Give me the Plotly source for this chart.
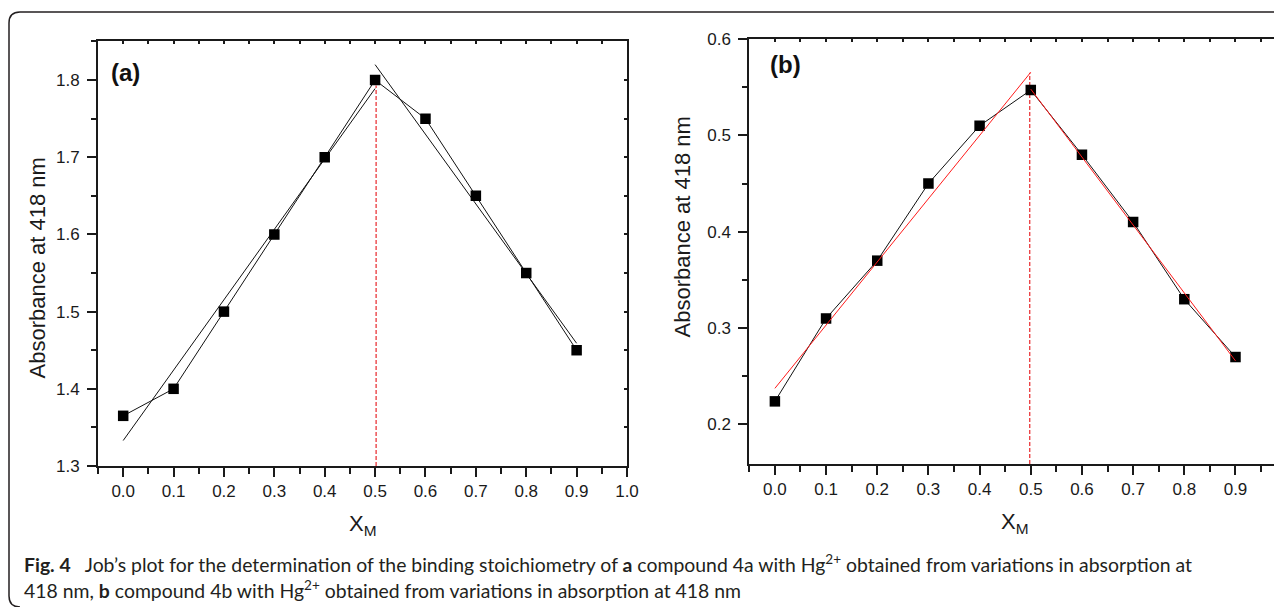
import plotly.graph_objects as go

# The page body adds an 8px margin, so the figure is drawn 8px in from the
# window corner; all pixel positions below are window pixels.
OFF = 8
W, H = 1282 - OFF, 607 - OFF

# ---- data ----
x_vals = [0.0, 0.1, 0.2, 0.3, 0.4, 0.5, 0.6, 0.7, 0.8, 0.9]
abs_a = [1.365, 1.40, 1.50, 1.60, 1.70, 1.80, 1.75, 1.65, 1.55, 1.45]
abs_b = [0.224, 0.31, 0.37, 0.45, 0.51, 0.547, 0.48, 0.41, 0.33, 0.27]

fit_a_left_x = [0.0, 0.5]
fit_a_left_y = [1.333, 1.789]
fit_a_right_x = [0.5, 0.9]
fit_a_right_y = [1.820, 1.459]
vline_a_x = [0.502, 0.502]
vline_a_y = [1.30, 1.793]

fit_b_left_x = [0.0, 0.5]
fit_b_left_y = [0.2375, 0.5655]
fit_b_right_x = [0.5, 0.9]
fit_b_right_y = [0.548, 0.266]
vline_b_x = [0.498, 0.498]
vline_b_y = [0.159, 0.565]

xticks_a = [0.0, 0.1, 0.2, 0.3, 0.4, 0.5, 0.6, 0.7, 0.8, 0.9, 1.0]
xticks_b = [0.0, 0.1, 0.2, 0.3, 0.4, 0.5, 0.6, 0.7, 0.8, 0.9]
yticks_a = [1.3, 1.4, 1.5, 1.6, 1.7, 1.8]
yticks_b = [0.2, 0.3, 0.4, 0.5, 0.6]

ytitle = "Absorbance at 418 nm"
xtitle = "X<sub>M</sub>"
caption_1 = ("<b>Fig. 4</b>\u2002 Job\u2019s plot for the determination of the binding stoichiometry of "
             "<b>a</b> compound 4a with Hg<sup>2+</sup> obtained from variations in absorption at")
caption_2 = ("418 nm, <b>b</b> compound 4b with Hg<sup>2+</sup> obtained from variations in absorption at 418 nm")

# ---- layout geometry (window pixels -> paper) ----
def px(x):
    return (x - OFF) / W

def py(y):
    return 1 - (y - OFF) / H

dom_a_x = [px(98), px(627)]
dom_a_y = [py(466), py(40.7)]
dom_b_x = [px(749.3), px(1279.5)]
dom_b_y = [py(464), py(39)]

range_a_x = [-0.05, 1.0]
range_a_y = [1.3, 1.851]
range_b_x = [-0.05, 0.986]
range_b_y = [0.159, 0.6]

fig = go.Figure()

def add_line(xs, ys, xa, ya, color, dash="solid", width=1):
    fig.add_trace(go.Scatter(x=xs, y=ys, mode="lines", xaxis=xa, yaxis=ya,
                             line=dict(color=color, width=width, dash=dash),
                             showlegend=False, hoverinfo="skip"))

# panel a
add_line(vline_a_x, vline_a_y, "x", "y", "#e8262a", dash="4px,2px", width=1.2)
add_line(fit_a_left_x, fit_a_left_y, "x", "y", "#111111")
add_line(fit_a_right_x, fit_a_right_y, "x", "y", "#111111")
fig.add_trace(go.Scatter(x=x_vals, y=abs_a, mode="lines+markers", xaxis="x", yaxis="y",
                         line=dict(color="#111111", width=1),
                         marker=dict(symbol="square", size=10.5, color="#000000"),
                         showlegend=False))
# panel b
add_line(vline_b_x, vline_b_y, "x2", "y2", "#e8262a", dash="4px,2px", width=1.2)
fig.add_trace(go.Scatter(x=x_vals, y=abs_b, mode="lines+markers", xaxis="x2", yaxis="y2",
                         line=dict(color="#111111", width=1),
                         marker=dict(symbol="square", size=10.5, color="#000000"),
                         showlegend=False))
add_line(fit_b_left_x, fit_b_left_y, "x2", "y2", "#ff1a1a")
add_line(fit_b_right_x, fit_b_right_y, "x2", "y2", "#ff1a1a")

# dummy traces so that the mirror (top/right) axes exist
for xa, ya in [("x3", "y"), ("x", "y3"), ("x4", "y2"), ("x2", "y4")]:
    fig.add_trace(go.Scatter(x=[None], y=[None], xaxis=xa, yaxis=ya,
                             showlegend=False, hoverinfo="skip"))

tick_font = dict(family="Liberation Sans, Arial, sans-serif", size=17, color="#1a1a1a")
axis_line = dict(showline=True, linewidth=2, linecolor="#1a1a1a", showgrid=False,
                 zeroline=False, automargin=False)

def main_x(domain, rng, ticks, anchor):
    return dict(domain=domain, range=rng, anchor=anchor, tickmode="array",
                tickvals=ticks, ticktext=[f"{t:.1f}" for t in ticks],
                ticks="outside", ticklen=9, tickwidth=1.5, tickcolor="#1a1a1a",
                tickfont=tick_font, ticklabelstandoff=0,
                minor=dict(ticks="outside", ticklen=6, tickwidth=1.5, tickcolor="#1a1a1a",
                           dtick=0.05, tick0=0.05),
                **axis_line)

def main_y(domain, rng, ticks, anchor):
    return dict(domain=domain, range=rng, anchor=anchor, tickmode="array",
                tickvals=ticks, ticktext=[f"{t:.1f}" for t in ticks],
                ticks="outside", ticklen=9, tickwidth=1.5, tickcolor="#1a1a1a",
                tickfont=tick_font, ticklabelstandoff=4,
                minor=dict(ticks="outside", ticklen=5, tickwidth=1.5, tickcolor="#1a1a1a",
                           dtick=0.05, tick0=0.05),
                **axis_line)

def mirror_axis(over, rng, anchor, side):
    return dict(overlaying=over, range=rng, anchor=anchor, side=side,
                ticks="inside", ticklen=3, tickwidth=1.5, tickcolor="#1a1a1a",
                dtick=0.05, tick0=0, showticklabels=False, **axis_line)

fig.update_layout(
    width=W, height=H,
    margin=dict(l=0, r=0, t=0, b=0, autoexpand=False),
    paper_bgcolor="white", plot_bgcolor="white",
    showlegend=False,
    xaxis=main_x(dom_a_x, range_a_x, xticks_a, "y"),
    yaxis=main_y(dom_a_y, range_a_y, yticks_a, "x"),
    xaxis2=main_x(dom_b_x, range_b_x, xticks_b, "y2"),
    yaxis2=main_y(dom_b_y, range_b_y, yticks_b, "x2"),
    xaxis3=mirror_axis("x", range_a_x, "y", "top"),
    yaxis3=mirror_axis("y", range_a_y, "x", "right"),
    xaxis4=mirror_axis("x2", range_b_x, "y2", "top"),
    yaxis4=mirror_axis("y2", range_b_y, "x2", "right"),
)

title_font = dict(family="Liberation Sans, Arial, sans-serif", size=22, color="#1a1a1a")
label_font = dict(family="Liberation Sans, Arial, sans-serif", size=24, color="#111111")
cap_font = dict(family="Lato, Open Sans, sans-serif", size=19.4, color="#231f20")

ann = [
    dict(text=ytitle, x=px(37), y=py(268.5), textangle=-90, font=title_font),
    dict(text=ytitle, x=px(682), y=py(227.5), textangle=-90, font=title_font),
    dict(text=xtitle, x=px(362.5), y=py(525), font=title_font),
    dict(text=xtitle, x=px(1014.5), y=py(523), font=title_font),
    dict(text="<b>(a)</b>", x=px(109), y=py(72), xanchor="left", font=label_font),
    dict(text="<b>(b)</b>", x=px(768), y=py(65), xanchor="left", font=label_font),
    dict(text=caption_1, x=px(22), y=py(563), xanchor="left", font=cap_font),
    dict(text=caption_2, x=px(22), y=py(589), xanchor="left", font=cap_font),
]
for a in ann:
    a.setdefault("xanchor", "center")
    a.update(xref="paper", yref="paper", yanchor="middle", showarrow=False)
fig.update_layout(annotations=ann)

# rounded outer frame (cropped at right and bottom)
frame_path = (f"M {px(1300)},{py(12)} L {px(20)},{py(12)} "
              f"Q {px(9)},{py(12)} {px(9)},{py(23)} "
              f"L {px(9)},{py(596)} Q {px(9)},{py(607)} {px(20)},{py(607)}")
fig.add_shape(type="path", path=frame_path, xref="paper", yref="paper",
              line=dict(color="#231f20", width=1.5))

fig.write_html("out.html")
